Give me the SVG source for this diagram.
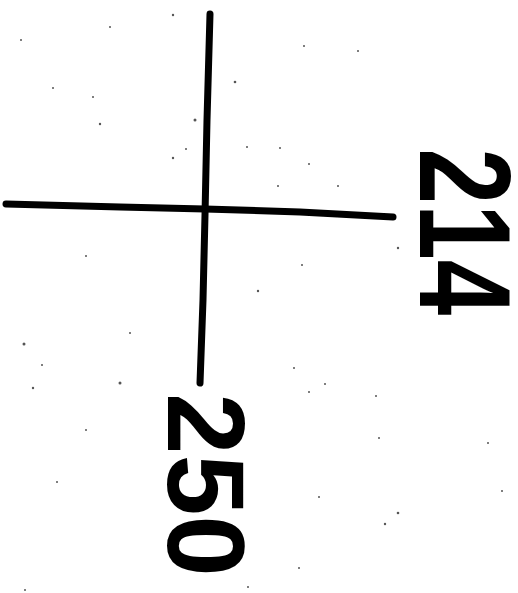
<svg xmlns="http://www.w3.org/2000/svg" width="518" height="593" viewBox="0 0 518 593">
  <style>
    .ln { stroke: #000; stroke-width: 7; stroke-linecap: round; fill: none; }
    .lbl { font-family: "Liberation Sans", Arial, sans-serif; font-weight: bold; fill: #000; text-anchor: middle; }
    .sp { fill: #555; }
  </style>
  <rect width="518" height="593" fill="#fff"/>
  <g id="speckles">
    <circle class="sp" cx="173" cy="15" r="1.2"/>
    <circle class="sp" cx="110" cy="27" r="1"/>
    <circle class="sp" cx="21" cy="40" r="1"/>
    <circle class="sp" cx="358" cy="51" r="1"/>
    <circle class="sp" cx="304" cy="46" r="1"/>
    <circle class="sp" cx="235" cy="82" r="1.3"/>
    <circle class="sp" cx="53" cy="88" r="1"/>
    <circle class="sp" cx="93" cy="97" r="1"/>
    <circle class="sp" cx="100" cy="124" r="1.2"/>
    <circle class="sp" cx="195" cy="120" r="1.5"/>
    <circle class="sp" cx="247" cy="147" r="1"/>
    <circle class="sp" cx="186" cy="149" r="1"/>
    <circle class="sp" cx="173" cy="158" r="1.2"/>
    <circle class="sp" cx="280" cy="148" r="1"/>
    <circle class="sp" cx="309" cy="164" r="1"/>
    <circle class="sp" cx="278" cy="186" r="1"/>
    <circle class="sp" cx="338" cy="186" r="1"/>
    <circle class="sp" cx="398" cy="248" r="1.2"/>
    <circle class="sp" cx="86" cy="256" r="1"/>
    <circle class="sp" cx="302" cy="265" r="1"/>
    <circle class="sp" cx="258" cy="291" r="1.2"/>
    <circle class="sp" cx="130" cy="333" r="1"/>
    <circle class="sp" cx="24" cy="344" r="1.5"/>
    <circle class="sp" cx="42" cy="365" r="1"/>
    <circle class="sp" cx="120" cy="383" r="1.5"/>
    <circle class="sp" cx="33" cy="388" r="1.2"/>
    <circle class="sp" cx="294" cy="368" r="1"/>
    <circle class="sp" cx="325" cy="384" r="1"/>
    <circle class="sp" cx="309" cy="392" r="1"/>
    <circle class="sp" cx="376" cy="396" r="1"/>
    <circle class="sp" cx="86" cy="430" r="1"/>
    <circle class="sp" cx="379" cy="438" r="1"/>
    <circle class="sp" cx="57" cy="482" r="1"/>
    <circle class="sp" cx="319" cy="497" r="1"/>
    <circle class="sp" cx="398" cy="513" r="1.3"/>
    <circle class="sp" cx="385" cy="524" r="1.2"/>
    <circle class="sp" cx="299" cy="568" r="1"/>
    <circle class="sp" cx="248" cy="587" r="1"/>
    <circle class="sp" cx="25" cy="590" r="1"/>
    <circle class="sp" cx="502" cy="491" r="1"/>
    <circle class="sp" cx="488" cy="443" r="1"/>
  </g>
  <g id="connectors">
    <path class="ln" d="M210,14 L207,120 L205,215 L203,300 L200,383"/>
    <path class="ln" d="M6,204 L120,207 L205,209 L300,212 L393,217"/>
  </g>
  <g id="label-214">
    <text class="lbl" font-size="100" transform="translate(420,232) rotate(90) scale(1,1.3)">214</text>
  </g>
  <g id="label-250">
    <text class="lbl" font-size="110" transform="translate(168,485) rotate(90)">250</text>
  </g>
</svg>
